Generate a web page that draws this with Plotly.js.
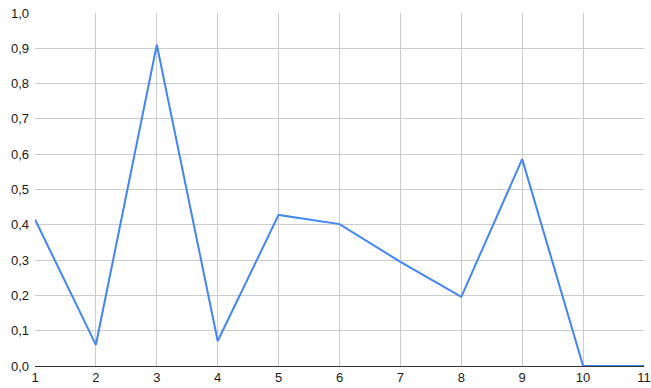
<!DOCTYPE html>
<html>
<head>
<meta charset="utf-8">
<script src="https://cdn.plot.ly/plotly-3.0.1.min.js"></script>
<style>html,body{margin:0;padding:0;background:#fff;}#chart{width:651px;height:388px;}</style>
</head>
<body>
<div id="chart"></div>
<script>
const xValues = [1, 2, 3, 4, 5, 6, 7, 8, 9, 10, 11];
const yValues = [0.415, 0.06, 0.91, 0.071, 0.428, 0.402, 0.295, 0.196, 0.586, 0, 0];
const yTicks = [0, 0.1, 0.2, 0.3, 0.4, 0.5, 0.6, 0.7, 0.8, 0.9, 1.0];

Plotly.newPlot('chart', [{
  x: xValues, y: yValues, type: 'scatter', mode: 'lines',
  line: {color: '#4285F4', width: 2}, hoverinfo: 'none'
}], {
  width: 651, height: 388,
  margin: {l: 35, r: 7, t: 13, b: 22},
  separators: ',.',
  paper_bgcolor: '#fff', plot_bgcolor: '#fff',
  font: {family: 'Liberation Sans, Arial, sans-serif', size: 13, color: '#1a1a1a'},
  showlegend: false,
  xaxis: {range: [1, 11], tickmode: 'array', tickvals: xValues, ticktext: xValues.map(String),
    showgrid: true, gridcolor: '#cccccc', zeroline: false, showline: false, ticks: '', ticklen: 0,
    ticklabelstandoff: 2, fixedrange: true},
  yaxis: {range: [0, 1.0], tickmode: 'array', tickvals: yTicks, tickformat: '.1f',
    showgrid: true, gridcolor: '#cccccc', zeroline: true, zerolinecolor: '#333333', zerolinewidth: 1,
    showline: false, ticks: '', ticklabelstandoff: 5, fixedrange: true}
}, {displayModeBar: false, staticPlot: true});
</script>
</body>
</html>
